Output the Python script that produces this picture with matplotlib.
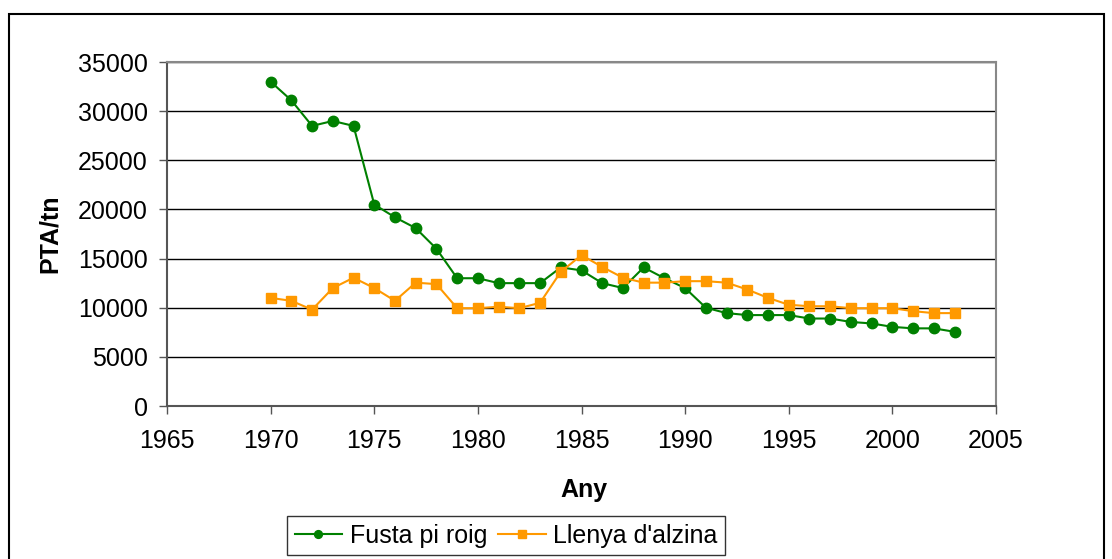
import matplotlib
matplotlib.use("Agg")
import matplotlib.pyplot as plt
from matplotlib.patches import Rectangle

plt.rcParams['font.family'] = ['Liberation Sans', 'DejaVu Sans']

years = list(range(1970, 2004))
fusta = [33000, 31100, 28500, 29000, 28500, 20500, 19200, 18100, 16000, 13000,
         13000, 12500, 12500, 12500, 14100, 13800, 12500, 12000, 14100, 13000,
         12000, 10000, 9450, 9250, 9250, 9250, 8900, 8900, 8550, 8400,
         8050, 7900, 7900, 7550]
llenya = [11000, 10700, 9800, 12000, 13050, 12000, 10700, 12550, 12400, 9950,
          9950, 10100, 9950, 10500, 13650, 15350, 14150, 13050, 12550, 12550,
          12700, 12700, 12550, 11850, 11000, 10300, 10150, 10150, 9950, 9950,
          9950, 9650, 9450, 9450]
xticks = [1965, 1970, 1975, 1980, 1985, 1990, 1995, 2000, 2005]
yticks = [0, 5000, 10000, 15000, 20000, 25000, 30000, 35000]

W, H = 1112, 559
FS = 18
fig = plt.figure(figsize=(W / 100, H / 100), dpi=100)
ax = fig.add_axes([167 / W, 1 - 406 / H, (996 - 167) / W, (406 - 62) / H])

# outer chart border
fig.patches.append(Rectangle((9 / W, -0.05), (1104 - 9) / W, (559 - 14) / H + 0.05,
                             transform=fig.transFigure, fill=False,
                             edgecolor='black', linewidth=1.5))

ax.plot(years, fusta, color='#008000', marker='o', markersize=7.5, linewidth=1.5,
        label='Fusta pi roig', zorder=3)
ax.plot(years, llenya, color='#FF9900', marker='s', markersize=7.5, linewidth=1.5,
        label="Llenya d'alzina", zorder=3)

ax.set_xlim(1965, 2005)
ax.set_ylim(0, 35000)
ax.set_xticks(xticks)
ax.set_yticks(yticks)
ax.yaxis.grid(True, color='black', linewidth=1)
ax.set_axisbelow(True)
ax.tick_params(axis='both', labelsize=FS, direction='out', length=5.8, width=1,
               color='#555555')
ax.tick_params(axis='x', pad=11)
ax.tick_params(axis='y', pad=8)
for side in ['top', 'right']:
    ax.spines[side].set_color('#888888')
    ax.spines[side].set_linewidth(1.5)
for side in ['left', 'bottom']:
    ax.spines[side].set_color('#555555')
    ax.spines[side].set_linewidth(1.5)

fig.text(584 / W, 1 - 490 / H, 'Any', fontsize=FS, fontweight='bold',
         ha='center', va='center')
fig.text(50 / W, 1 - 234 / H, 'PTA/tn', fontsize=FS, fontweight='bold',
         ha='center', va='center', rotation=90)

leg = fig.legend(loc='center', bbox_to_anchor=(506 / W, 1 - 535.5 / H), ncol=2,
                 fontsize=FS, frameon=True, fancybox=False, edgecolor='black',
                 handlelength=1.9, handletextpad=0.3, columnspacing=0.45,
                 borderpad=0.3, borderaxespad=0, markerscale=0.75)
leg.get_frame().set_linewidth(1)

fig.savefig('out.png', dpi=100)
